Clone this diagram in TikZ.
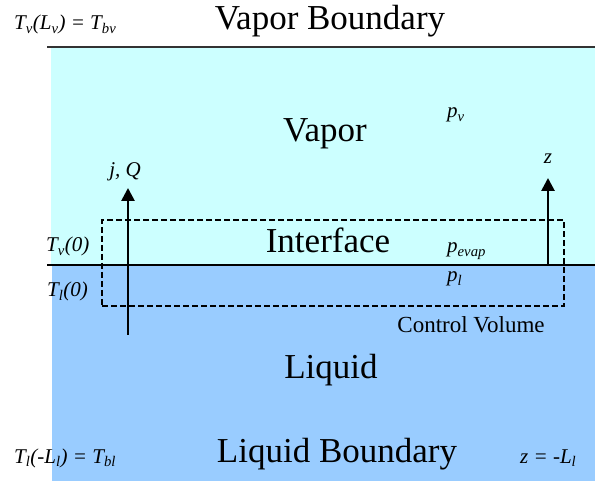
\documentclass[tikz,border=0pt]{standalone}
\usepackage{fontspec}
\setmainfont{Liberation Serif}
\usetikzlibrary{arrows.meta}
\definecolor{vap}{RGB}{204,255,255}
\definecolor{liq}{RGB}{153,204,255}
\tikzset{
  big/.style={font=\fontsize{35}{40}\selectfont,inner sep=0pt,anchor=base},
  sym/.style={font=\fontsize{21}{24}\selectfont\itshape,inner sep=0pt,anchor=base west},
  small/.style={font=\fontsize{23}{26}\selectfont,inner sep=0pt,anchor=base},
  cvbox/.style={draw,line width=2.3pt,dash pattern=on 6pt off 3pt,inner sep=0pt},
  arr/.style={-{Triangle[length=13pt,width=13pt]},line width=2.7pt},
  bnd/.style={line width=1.1pt}
}
\newcommand{\sbs}[1]{\textsubscript{#1}}
\begin{document}
\begin{tikzpicture}[x=1pt,y=-1pt]
\useasboundingbox (0,0) rectangle (595,481);
% phases
\fill[vap] (51,47) rectangle (595,265);
\fill[liq] (52,265) rectangle (595,481);
\draw[bnd,black!80] (47,47) -- (595,47);
\draw[bnd] (47,265) -- (595,265);
% control volume
\node[cvbox,minimum width=462pt,minimum height=86pt] (cv) at (333,263) {};
\coordinate (jq0) at (128,335);
\coordinate (jq1) at (128,188);
\coordinate (z0) at (548,265);
\coordinate (z1) at (548,178);
\draw[arr] (jq0) -- (jq1);
\draw[arr] (z0) -- (z1);
% labels
\node[big] (vb) at (330,30) {Vapor Boundary};
\node[sym] (tvb) at (14,30) {T\sbs{v}(L\sbs{v}) = T\sbs{bv}};
\node[big] (vap) at (325,142) {Vapor};
\node[sym] (pv) at (447,118) {p\sbs{v}};
\node[sym,anchor=base] (jq) at (125,177) {j, Q};
\node[sym,anchor=base] (zl) at (548,164) {z};
\node[big] (ifc) at (328,253) {Interface};
\node[sym] (pev) at (447,253) {p\sbs{evap}};
\node[sym] (pl) at (447,282) {p\sbs{l}};
\node[sym] (tv0) at (46,252) {T\sbs{v}(0)};
\node[sym] (tl0) at (47,297) {T\sbs{l}(0)};
\node[small] (cvl) at (471,333) {Control Volume};
\node[big] (liq) at (331,378) {Liquid};
\node[big] (lb) at (337,462) {Liquid Boundary};
\node[sym] (tlb) at (14,463) {T\sbs{l}(-L\sbs{l}) = T\sbs{bl}};
\node[sym] (zb) at (520,463) {z = -L\sbs{l}};
\end{tikzpicture}
\end{document}
